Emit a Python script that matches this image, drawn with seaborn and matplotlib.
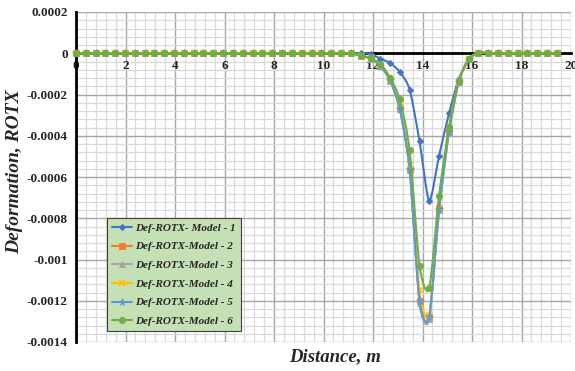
import numpy as np
import pandas as pd
import matplotlib
matplotlib.use("Agg")
import matplotlib.pyplot as plt
from matplotlib.path import Path
from matplotlib.patches import PathPatch
from matplotlib.lines import Line2D
from matplotlib.ticker import MultipleLocator, FixedLocator
import seaborn as sns

# ---------------- data ----------------
distance = [0.00, 0.40, 0.79, 1.19, 1.59, 1.98, 2.38, 2.78, 3.17, 3.57,
            3.97, 4.36, 4.76, 5.15, 5.55, 5.95, 6.34, 6.74, 7.14, 7.53,
            7.93, 8.33, 8.72, 9.12, 9.52, 9.91, 10.31, 10.71, 11.10, 11.50,
            11.90, 12.29, 12.69, 13.08, 13.48, 13.88, 14.27, 14.67, 15.07, 15.46,
            15.86, 16.26, 16.65, 17.05, 17.45, 17.84, 18.24, 18.64, 19.03, 19.43]

flat_left = [0.0] * 29
flat_right = [0.0] * 8

model_1 = flat_left + [0.0, -0.000002, -0.000026, -0.000047, -0.00009, -0.000176,
                       -0.000426, -0.000715, -0.000497, -0.000292, -0.000127,
                       -0.00003, 0.000003] + flat_right
model_2 = flat_left + [-0.000012, -0.000025, -0.00006, -0.00013, -0.000268, -0.00056,
                       -0.0012, -0.00128, -0.000757, -0.00038, -0.000139,
                       -0.00003, 0.000003] + flat_right
model_3 = flat_left + [-0.000012, -0.000026, -0.000062, -0.000133, -0.00027, -0.000565,
                       -0.00121, -0.00129, -0.00076, -0.000382, -0.00014,
                       -0.00003, 0.000003] + flat_right
model_4 = flat_left + [-0.000011, -0.000024, -0.000058, -0.000128, -0.00026, -0.00054,
                       -0.00115, -0.00127, -0.00075, -0.000375, -0.000138,
                       -0.00003, 0.000003] + flat_right
model_5 = flat_left + [-0.000012, -0.000025, -0.00006, -0.00013, -0.000268, -0.00056,
                       -0.0012, -0.00128, -0.000757, -0.00038, -0.000139,
                       -0.00003, 0.000003] + flat_right
model_6 = flat_left + [-0.00001, -0.000025, -0.00005, -0.000118, -0.000224, -0.00047,
                       -0.00103, -0.00114, -0.00069, -0.000357, -0.000136,
                       -0.00003, 0.000003] + flat_right

series_names = ["Def-ROTX- Model - 1", "Def-ROTX-Model - 2", "Def-ROTX-Model - 3",
                "Def-ROTX-Model - 4", "Def-ROTX-Model - 5", "Def-ROTX-Model - 6"]
series_values = [model_1, model_2, model_3, model_4, model_5, model_6]

x_ticks = [0, 2, 4, 6, 8, 10, 12, 14, 16, 18, 20]
y_ticks = [0.0002, 0, -0.0002, -0.0004, -0.0006, -0.0008, -0.001, -0.0012, -0.0014]
y_tick_labels = ["0.0002", "0", "-0.0002", "-0.0004", "-0.0006", "-0.0008",
                 "-0.001", "-0.0012", "-0.0014"]

# ---------------- style ----------------
colors = ["#4472C4", "#ED7D31", "#A5A5A5", "#FFC000", "#5B9BD5", "#70AD47"]
markers = ["D", "s", "^", "x", "*", "o"]
msizes = [3.2, 4.2, 4.5, 4.5, 5.5, 4.5]

sns.set_style("white")
plt.rcParams["font.family"] = ["Liberation Serif", "DejaVu Serif"]

frames = []
for name, vals in zip(series_names, series_values):
    frames.append(pd.DataFrame({"Distance": distance, "ROTX": vals, "Model": name}))
df = pd.concat(frames, ignore_index=True)

fig = plt.figure(figsize=(5.75, 3.71), dpi=100)
rect = [76 / 575, 1 - 342 / 371, 495 / 575, 330 / 371]

# background axes carrying only the grid, so tick labels sit on top of it
bg = fig.add_axes(rect, zorder=0)
ax = fig.add_axes(rect, zorder=1, sharex=bg, sharey=bg)
ax.patch.set_visible(False)


def smooth_path(xs, ys, k=8.0):
    """Cubic Bezier path through the points (cardinal-spline smoothing)."""
    pts = np.column_stack([xs, ys])
    verts = [pts[0]]
    codes = [Path.MOVETO]
    n = len(pts)
    for i in range(n - 1):
        p0 = pts[i - 1] if i > 0 else pts[i]
        p1 = pts[i]
        p2 = pts[i + 1]
        p3 = pts[i + 2] if i + 2 < n else pts[i + 1]
        c1 = p1 + (p2 - p0) / k
        c2 = p2 - (p3 - p1) / k
        verts += [c1, c2, p2]
        codes += [Path.CURVE4] * 3
    return Path(verts, codes)


handles = []
for k, name in enumerate(series_names):
    sub = df[df["Model"] == name]
    patch = PathPatch(smooth_path(sub["Distance"].to_numpy(), sub["ROTX"].to_numpy()),
                      facecolor="none", edgecolor=colors[k], lw=1.5,
                      zorder=3 + 2 * k, capstyle="round", joinstyle="round")
    ax.add_patch(patch)
    mk = markers[k]
    mew = 1.2 if mk == "x" else 0.6
    sns.lineplot(data=sub, x="Distance", y="ROTX", ax=ax, linestyle="",
                 marker=mk, markersize=msizes[k], color=colors[k],
                 markeredgecolor=colors[k], markeredgewidth=mew,
                 zorder=4 + 2 * k, legend=False, sort=False, clip_on=False)
    handles.append(Line2D([0], [0], color=colors[k], lw=1.5, marker=mk,
                          markersize=msizes[k], markeredgecolor=colors[k],
                          markeredgewidth=mew, label=name))

ax.set_xlim(0, 20)
ax.set_ylim(-0.0014, 0.0002)

ax.xaxis.set_major_locator(FixedLocator(x_ticks))
ax.xaxis.set_minor_locator(MultipleLocator(0.4))
ax.yaxis.set_major_locator(FixedLocator(y_ticks))
ax.yaxis.set_minor_locator(MultipleLocator(0.00004))
ax.set_xticklabels([str(t) for t in x_ticks])
ax.set_yticklabels(y_tick_labels)

# grid on the background axes
bg.grid(which="major", color="#A6A6A6", lw=1.0)
bg.grid(which="minor", color="#D9D9D9", lw=0.9)
bg.tick_params(which="both", length=0, labelbottom=False, labelleft=False)
for side in bg.spines:
    bg.spines[side].set_visible(False)
bg.set_facecolor("white")
ax.grid(False)

for side in ("top", "right"):
    ax.spines[side].set_visible(False)
ax.spines["left"].set_color("black")
ax.spines["left"].set_linewidth(2.0)
ax.spines["bottom"].set_color("black")
ax.spines["bottom"].set_linewidth(2.0)
ax.spines["bottom"].set_position(("data", 0))

ax.tick_params(which="major", direction="out", length=3, width=1.2, color="black",
               labelbottom=True, labelleft=True)
ax.tick_params(which="minor", length=0)
ax.tick_params(axis="x", pad=2)
ax.tick_params(axis="y", pad=3)
for lab in ax.get_xticklabels() + ax.get_yticklabels():
    lab.set_fontweight("bold")
    lab.set_fontsize(9.5)

ax.set_xlabel("")
ax.set_ylabel("")
fig.text(335 / 575, 1 - 357 / 371, "Distance, m", ha="center", va="center",
         fontsize=13.5, fontweight="bold", fontstyle="italic")
fig.text(15 / 575, 1 - 172 / 371, "Deformation, ROTX", ha="center", va="center",
         rotation=90, fontsize=14, fontweight="bold", fontstyle="italic")

leg = ax.legend(handles=handles, loc="upper left",
                bbox_to_anchor=((107 - 76) / 495, (342 - 218) / 330),
                borderaxespad=0, frameon=True, fancybox=False, framealpha=1,
                facecolor="#C5E0B4", edgecolor="#404040", handlelength=1.8,
                handletextpad=0.3, labelspacing=0.8, borderpad=0.45,
                prop={"family": "Liberation Serif", "weight": "bold",
                      "style": "italic", "size": 8})
leg.get_frame().set_linewidth(0.8)
leg.set_zorder(20)

fig.savefig("out.png", dpi=100)
